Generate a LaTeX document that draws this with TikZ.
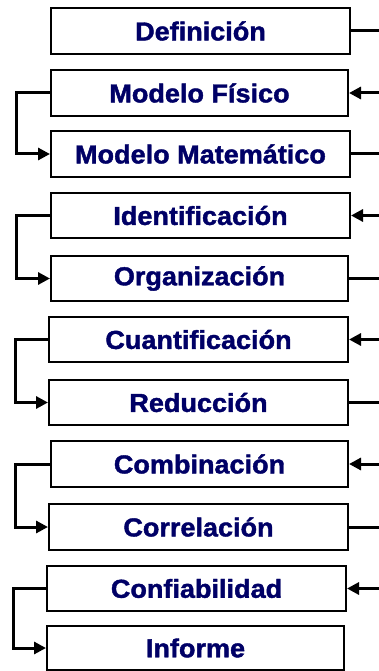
\documentclass[tikz,border=0pt]{standalone}
\usepackage{fontspec}
\setmainfont{Liberation Sans}[BoldFeatures={FakeBold=1.5}]
\usetikzlibrary{arrows.meta}
\definecolor{navy}{HTML}{000066}
\tikzset{
  box/.style={draw=black, line width=2pt, fill=white, inner sep=0pt,
    font=\fontsize{26}{30}\selectfont\bfseries, text=navy},
  conn/.style={line width=3pt, black},
  arr/.style={conn, -{Triangle[length=12pt,width=12pt]}}
}
\newcommand{\bx}[7]{% name, left, right, top, bottom, text
  \node[box, minimum width={#3-#2}, minimum height={#5-#4}] (#1) at ({(#2+#3)/2},{(#4+#5)/2}) {\scalebox{1.04}[1]{#6}};}
\begin{document}
\begin{tikzpicture}[x=1pt,y=-1pt]
\useasboundingbox (0,0) rectangle (379,671);
\bx{b1}{51}{350}{8}{54}{Definición}{}
\bx{b2}{51}{348}{70}{116}{Modelo Físico}{}
\bx{b3}{51}{350}{131}{177}{Modelo Matemático}{}
\bx{b4}{51}{350}{193}{238}{Identificación}{}
\bx{b5}{51}{348}{256}{301}{Organización}{}
\bx{b6}{49}{348}{317}{362}{Cuantificación}{}
\bx{b7}{49}{348}{380}{425}{Reducción}{}
\bx{b8}{51}{348}{441}{487}{Combinación}{}
\bx{b9}{49}{348}{504}{550}{Correlación}{}
\bx{b10}{47}{346}{566}{611}{Confiabilidad}{}
\bx{b11}{47}{344}{626}{670}{Informe}{}
% right-edge coordinates
\foreach \n in {1,...,10} {\coordinate (r\n) at (b\n.east -| 380,0);}
% outgoing lines
\foreach \n in {1,3,5,7,9} {\draw[conn] (b\n.east) -- (r\n);}
% incoming arrows
\foreach \n in {2,4,6,8,10} {\draw[arr] (r\n) -- (b\n.east);}
% left loops
\coordinate (l2) at (16,0);
\coordinate (l4) at (16,0);
\coordinate (l6) at (15,0);
\coordinate (l8) at (15,0);
\coordinate (l10) at (13,0);
\draw[arr] (b2.west) -- (b2.west -| l2) |- (b3.west);
\draw[arr] (b4.west) -- (b4.west -| l4) |- (b5.west);
\draw[arr] (b6.west) -- (b6.west -| l6) |- (b7.west);
\draw[arr] (b8.west) -- (b8.west -| l8) |- (b9.west);
\draw[arr] (b10.west) -- (b10.west -| l10) |- (b11.west);
\end{tikzpicture}
\end{document}
